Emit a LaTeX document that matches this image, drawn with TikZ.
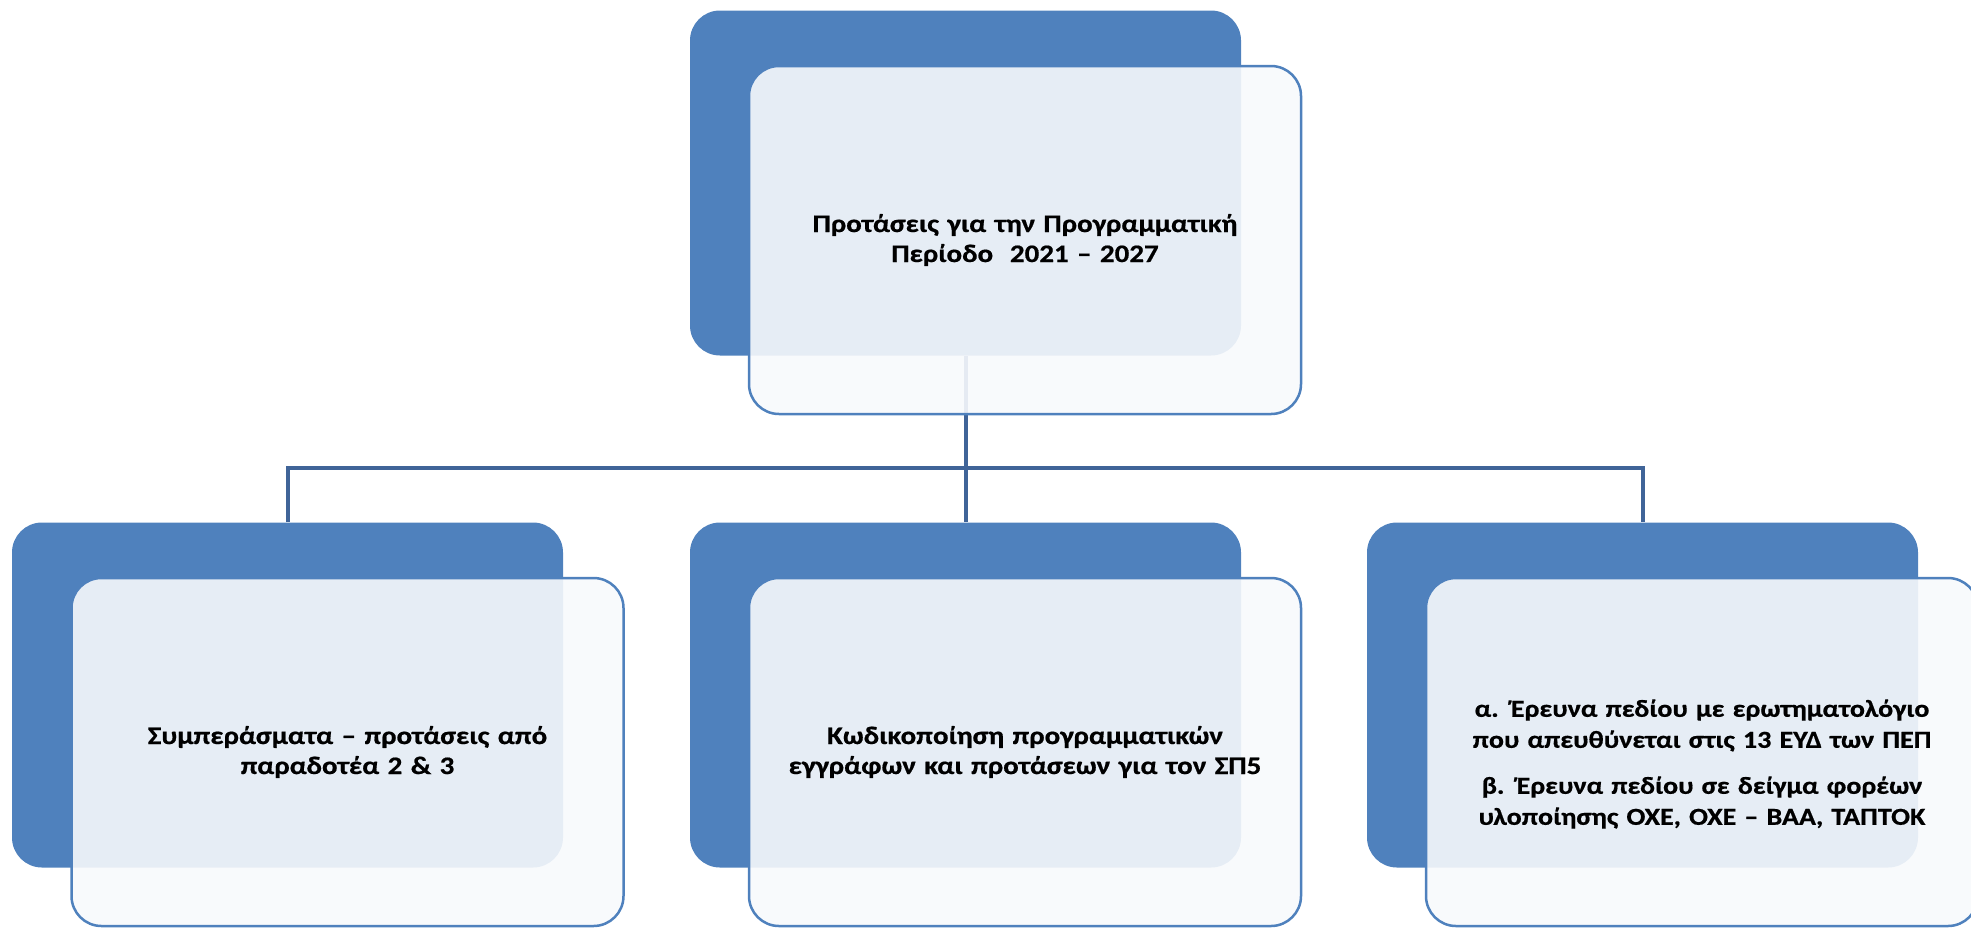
\documentclass[tikz,border=0pt]{standalone}
\usepackage{fontspec}
\setmainfont{Carlito}[FakeStretch=1.15, BoldFeatures={FakeBold=0.6}]
\definecolor{boxblue}{RGB}{79,129,189}
\definecolor{linkblue}{RGB}{64,100,152}
\definecolor{paleblue}{RGB}{247,249,252}
\begin{document}
\begin{tikzpicture}[x=0.5pt, y=-0.5pt,
  back/.style={rectangle, rounded corners=15pt, fill=boxblue, inner sep=0pt,
    minimum width=275.5pt, minimum height=172.5pt},
  front/.style={rectangle, rounded corners=15pt, draw=boxblue, line width=1.25pt,
    fill=paleblue, fill opacity=0.9, text opacity=1, inner sep=0pt,
    minimum width=276pt, minimum height=174pt, text width=266pt, align=center,
    font=\fontsize{12.6}{15}\selectfont\bfseries},
  link/.style={draw=linkblue, line width=2pt}]
  \useasboundingbox (0,0) rectangle (1971,928);
  \node[back] (topb) at (965.5,183) {};
  \node[back] (leftb) at (287.5,695) {};
  \node[back] (midb) at (965.5,695) {};
  \node[back] (rightb) at (1642.5,695) {};
  \coordinate (bus) at (965.5,468);
  \draw[link] (topb.south) -- (bus);
  \draw[link] (leftb.north) |- (bus) -| (rightb.north);
  \draw[link] (bus) -- (midb.north);
  \node[front] (top) at ([shift={(59.5,57)}]topb)
    {Προτάσεις για την Προγραμματική\\ Περίοδο~ 2021 – 2027};
  \node[front] (left) at ([shift={(60,57)}]leftb)
    {Συμπεράσματα – προτάσεις από\\ παραδοτέα 2 \& 3};
  \node[front] (mid) at ([shift={(59.5,57)}]midb)
    {Κωδικοποίηση προγραμματικών\\ εγγράφων και προτάσεων για τον ΣΠ5};
  \node[front] (right) at ([shift={(59.5,57)}]rightb) {};
  \node[text width=266pt, align=center, inner sep=0pt,
    font=\fontsize{12.2}{15.5}\selectfont\bfseries] (rightlbl) at ([yshift=-6pt]right.center)
    {α. Έρευνα πεδίου με ερωτηματολόγιο\\ που απευθύνεται στις 13 ΕΥΔ των ΠΕΠ\\[7.5pt]
     β. Έρευνα πεδίου σε δείγμα φορέων\\ υλοποίησης ΟΧΕ, ΟΧΕ – ΒΑΑ, ΤΑΠΤΟΚ};
\end{tikzpicture}
\end{document}
